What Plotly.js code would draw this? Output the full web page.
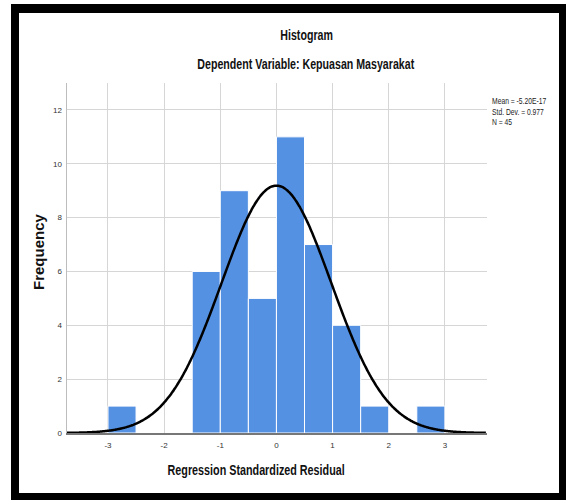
<!DOCTYPE html>
<html>
<head>
<meta charset="utf-8">
<script src="https://cdn.plot.ly/plotly-3.0.1.min.js"></script>
<style>
html,body{margin:0;padding:0;background:#fff;}
#wrap{position:relative;width:566px;height:500px;}
#chart{position:absolute;left:0;top:0;width:566px;height:500px;}
#frame{position:absolute;left:11px;top:4px;width:540px;height:480px;border-style:solid;border-color:#000;border-width:9px 7px 7px 8px;pointer-events:none;}
</style>
</head>
<body>
<div id="wrap"><div id="chart"></div><div id="frame"></div></div>
<script>
// Histogram bins (left edges, width 0.5) and frequencies
const binStarts = [-3.0, -1.5, -1.0, -0.5, 0.0, 0.5, 1.0, 1.5, 2.5];
const frequencies = [1, 6, 9, 5, 11, 7, 4, 1, 1];
const binWidth = 0.5;
// Reported statistics
const meanVal = -5.20e-17;
const sdVal = 0.977;
const nVal = 45;
const xTicks = [-3, -2, -1, 0, 1, 2, 3];
const yTicks = [0, 2, 4, 6, 8, 10, 12];

const binCenters = binStarts.map(s => s + binWidth / 2);

// Normal curve implied by mean, sd and N
const curveX = [], curveY = [];
for (let x = -3.73; x <= 3.75; x += 0.02) {
  curveX.push(x);
  const z = (x - meanVal) / sdVal;
  curveY.push(nVal * binWidth * Math.exp(-0.5 * z * z) / (sdVal * Math.sqrt(2 * Math.PI)));
}

const fontN = '"Liberation Sans", Arial, sans-serif';

const traces = [
  {
    type: 'bar', x: binCenters, y: frequencies, width: binWidth,
    marker: {color: '#5591e3', line: {color: '#ffffff', width: 1}},
    hoverinfo: 'x+y', showlegend: false
  },
  {
    type: 'scatter', mode: 'lines', x: curveX, y: curveY,
    line: {color: '#000000', width: 2.5, shape: 'spline'},
    hoverinfo: 'skip', showlegend: false
  }
];

const px = v => (v - 67) / 420;
const py = v => (433 - v) / 350;

const layout = {
  width: 566, height: 500,
  margin: {l: 67, r: 79, t: 83, b: 67},
  paper_bgcolor: '#ffffff', plot_bgcolor: '#ffffff',
  bargap: 0,
  font: {family: fontN, color: '#222'},
  xaxis: {
    range: [-3.73, 3.75], tickvals: xTicks, ticktext: xTicks.map(String),
    showgrid: true, gridcolor: '#d6d6d6', gridwidth: 1,
    zeroline: false, showline: true, linecolor: '#777', linewidth: 1.5,
    ticks: '', ticklabelstandoff: 4, tickfont: {size: 8, color: '#333', family: fontN}
  },
  yaxis: {
    range: [0, 13], tickvals: yTicks, ticktext: yTicks.map(String),
    showgrid: true, gridcolor: '#d6d6d6', gridwidth: 1,
    zeroline: false, showline: true, linecolor: '#bdbdbd', linewidth: 1.5,
    ticks: '', ticklabelstandoff: 2, tickfont: {size: 8, color: '#333', family: fontN}
  },
  annotations: [
    {xref: 'paper', yref: 'paper', x: px(306), y: py(35), xanchor: 'center', yanchor: 'middle',
     text: '<b>Histogram</b>', showarrow: false, font: {size: 14, color: '#111', family: fontN}},
    {xref: 'paper', yref: 'paper', x: px(306), y: py(64), xanchor: 'center', yanchor: 'middle',
     text: '<b>Dependent Variable: Kepuasan Masyarakat</b>', showarrow: false, font: {size: 14, color: '#111', family: fontN}},
    {xref: 'paper', yref: 'paper', x: px(256), y: py(470), xanchor: 'center', yanchor: 'middle',
     text: '<b>Regression Standardized Residual</b>', showarrow: false, font: {size: 14, color: '#111', family: fontN}},
    {xref: 'paper', yref: 'paper', x: px(490), y: py(101.5), xanchor: 'left', yanchor: 'middle',
     text: 'Mean = ' + '-5.20E-17', showarrow: false, font: {size: 9, color: '#222', family: fontN}},
    {xref: 'paper', yref: 'paper', x: px(490), y: py(111.5), xanchor: 'left', yanchor: 'middle',
     text: 'Std. Dev. = ' + sdVal.toFixed(3), showarrow: false, font: {size: 9, color: '#222', family: fontN}},
    {xref: 'paper', yref: 'paper', x: px(490), y: py(121.5), xanchor: 'left', yanchor: 'middle',
     text: 'N = ' + nVal, showarrow: false, font: {size: 9, color: '#222', family: fontN}},
    {xref: 'paper', yref: 'paper', x: px(38), y: py(252), xanchor: 'center', yanchor: 'middle', textangle: -90,
     text: '<b>Frequency</b>', showarrow: false, font: {size: 15, color: '#111', family: fontN}}
  ]
};

// horizontal condensing of the narrow source font: [scaleX, origin]
const squeeze = [[0.76,'center'],[0.76,'center'],[0.77,'center'],[0.75,'left'],[0.75,'left'],[0.75,'left'],[1,'center']];

Plotly.newPlot('chart', traces, layout, {displayModeBar: false, staticPlot: true}).then(() => {
  const texts = document.querySelectorAll('#chart .annotation-text');
  texts.forEach((t, i) => {
    const s = squeeze[i];
    if (!s || s[0] === 1) return;
    t.style.transformBox = 'fill-box';
    t.style.transformOrigin = s[1] + ' center';
    t.style.transform = 'scaleX(' + s[0] + ')';
  });
});
</script>
</body>
</html>
